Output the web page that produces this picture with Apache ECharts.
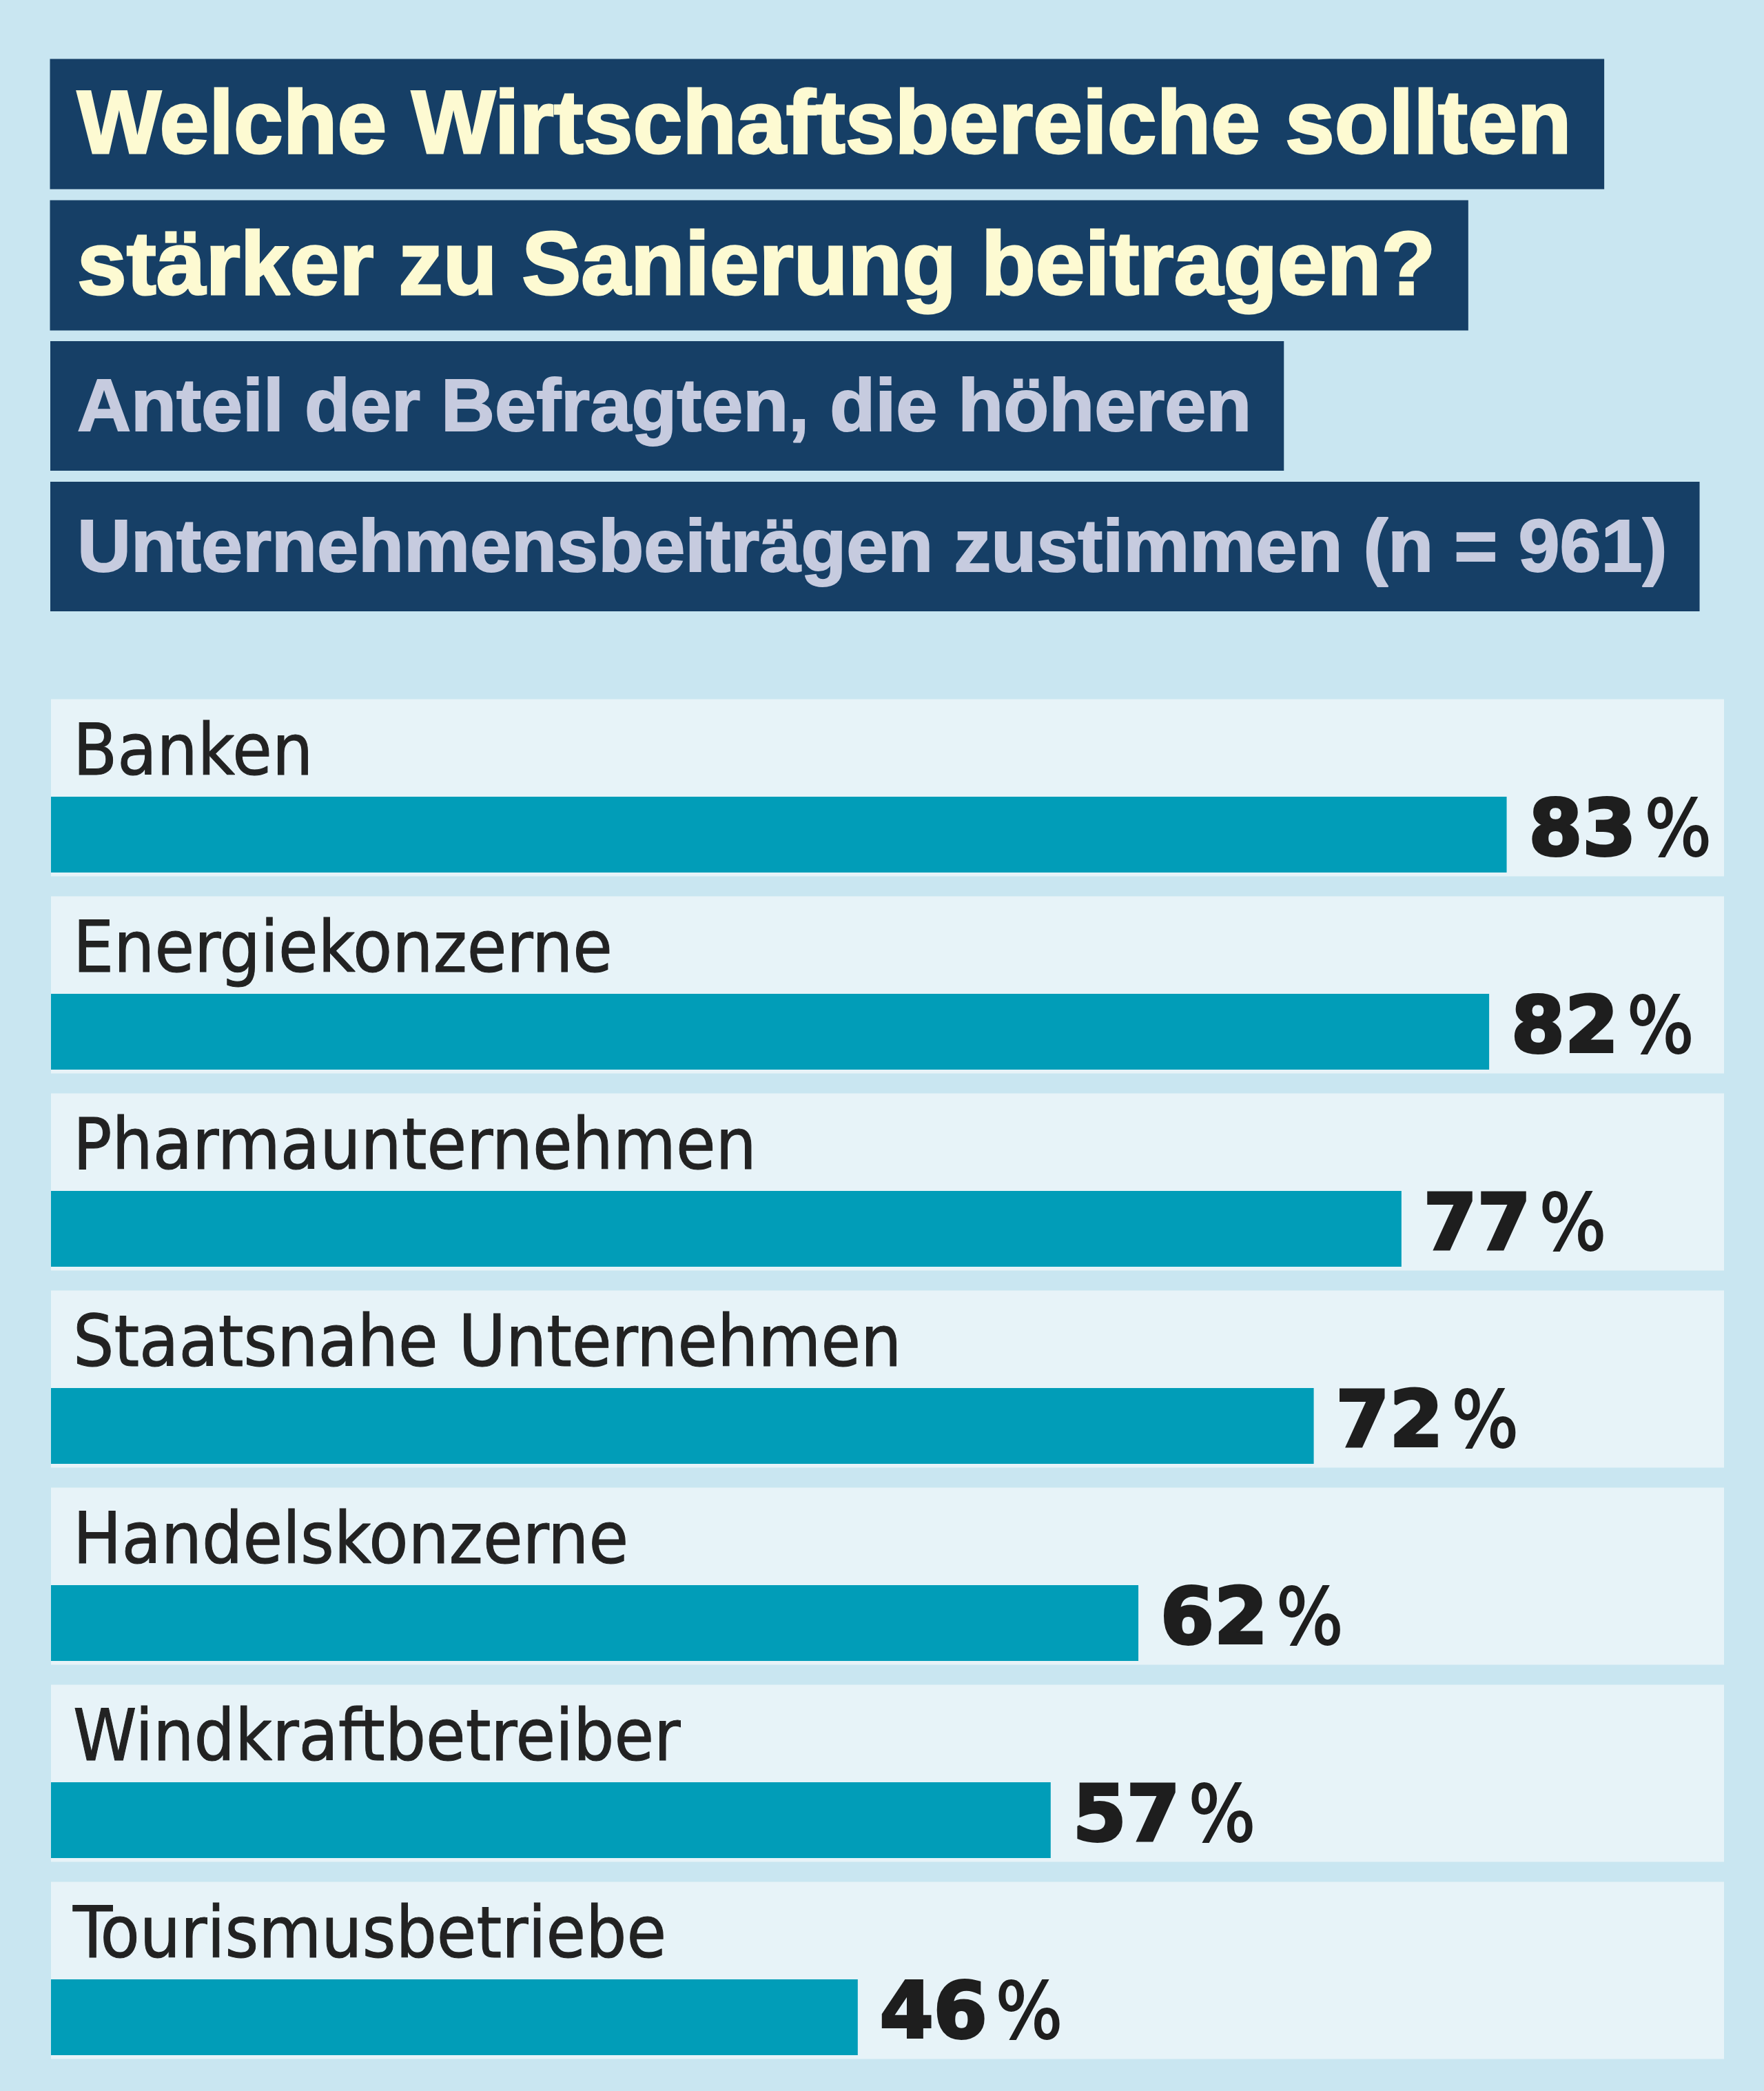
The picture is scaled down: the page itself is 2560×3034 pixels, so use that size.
<!DOCTYPE html>
<html>
<head>
<meta charset="utf-8">
<script src="https://cdn.jsdelivr.net/npm/echarts@6/dist/echarts.min.js"></script>
<style>
  html, body { margin: 0; padding: 0; background: #c9e6f1; }
  #chart { width: 2560px; height: 3034px; }
</style>
</head>
<body>
<div id="chart"></div>
<script>
// Daten
var titleLines = ['Welche Wirtschaftsbereiche sollten', 'stärker zu Sanierung beitragen?'];
var subtitleLines = ['Anteil der Befragten, die höheren', 'Unternehmensbeiträgen zustimmen (n = 961)'];
var categories = ['Banken', 'Energiekonzerne', 'Pharmaunternehmen', 'Staatsnahe Unternehmen',
  'Handelskonzerne', 'Windkraftbetreiber', 'Tourismusbetriebe'];
var values = [83, 82, 77, 72, 62, 57, 46];

var chart = echarts.init(document.getElementById('chart'));

var navy = '#163f66';
function titleBox(text, top, color, size, stroke, rightPad) {
  var padTop = (186 - size) / 2 + 6;
  return {
    text: text,
    left: 74,
    top: top,
    backgroundColor: navy,
    padding: [padTop, rightPad, 186 - size - padTop, 38],
    textStyle: {
      color: color,
      fontFamily: 'Liberation Sans',
      fontWeight: 'bold',
      fontSize: size,
      lineHeight: size,
      textBorderColor: color,
      textBorderWidth: stroke
    }
  };
}

var option = {
  backgroundColor: '#c9e6f1',
  animation: false,
  title: [
    titleBox(titleLines[0], 87, '#fdfad2', 129, 3, 46),
    titleBox(titleLines[1], 292, '#fdfad2', 129, 3, 46),
    titleBox(subtitleLines[0], 496, '#c6cbdf', 108, 2, 46),
    titleBox(subtitleLines[1], 700, '#c6cbdf', 108, 2, 46)
  ],
  grid: [
    { left: 74, top: 1068, width: 2418, height: 2002, outerBoundsMode: 'none' },
    { left: 74, top: 1000, width: 2428, height: 2002, outerBoundsMode: 'none' }
  ],
  xAxis: [
    { gridIndex: 0, type: 'value', min: 0, max: 95, show: false },
    { gridIndex: 1, type: 'value', min: 0, max: 1, show: false }
  ],
  yAxis: [
    { gridIndex: 0, type: 'category', data: categories, inverse: true, show: false },
    { gridIndex: 1, type: 'category', data: categories, inverse: true, show: false }
  ],
  series: [
    {
      // Zeilenhintergrund mit Kategorienamen
      type: 'bar',
      xAxisIndex: 1,
      yAxisIndex: 1,
      z: 1,
      barWidth: 257,
      data: categories.map(function () { return 1; }),
      itemStyle: { color: '#e7f3f8' },
      label: {
        show: true,
        position: [32, 30],
        formatter: function (p) { return p.name; },
        color: '#222222',
        fontFamily: 'DejaVu Sans Condensed, sans-serif',
        fontSize: 104,
        lineHeight: 104,
        verticalAlign: 'top',
        align: 'left',
        textBorderColor: '#222222',
        textBorderWidth: 1
      },
      silent: true
    },
    {
      type: 'bar',
      xAxisIndex: 0,
      yAxisIndex: 0,
      z: 2,
      barWidth: 110,
      data: values,
      itemStyle: { color: '#019db8' },
      label: {
        show: true,
        position: 'right',
        distance: 32,
        formatter: function (p) { return '{v|' + p.value + '}{p|%}'; },
        rich: {
          v: {
            fontFamily: 'DejaVu Sans', fontWeight: 'bold', fontSize: 112, color: '#1e1e1e',
            textBorderColor: '#1e1e1e', textBorderWidth: 4
          },
          p: {
            fontFamily: 'DejaVu Sans Condensed', fontWeight: 'normal', fontSize: 114, color: '#1e1e1e',
            textBorderColor: '#1e1e1e', textBorderWidth: 2, padding: [0, 0, 0, 12]
          }
        }
      }
    }
  ]
};

chart.setOption(option);
window.onresize = function () {
  chart.resize();
};
</script>
</body>
</html>
